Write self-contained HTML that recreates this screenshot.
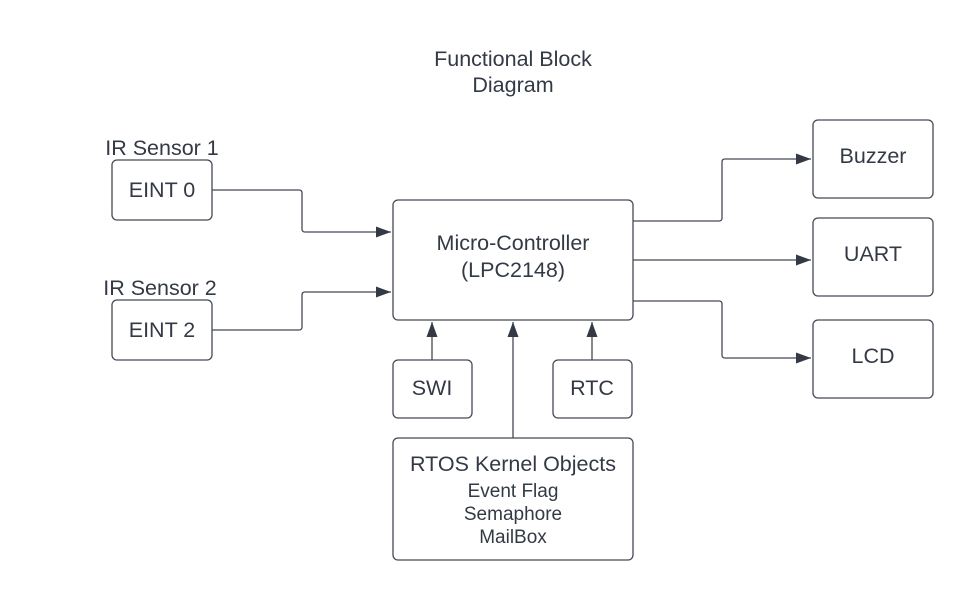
<!DOCTYPE html>
<html><head><meta charset="utf-8"><style>
body{margin:0;background:#fff;}
svg text{font-family:"Liberation Sans",sans-serif;fill:#333a45;}
</style></head><body>
<svg width="973" height="601" viewBox="0 0 973 601" xmlns="http://www.w3.org/2000/svg">
<defs><marker id="a" markerWidth="15" markerHeight="11" refX="15" refY="5.5" orient="auto" markerUnits="userSpaceOnUse"><path d="M0,0 L15,5.5 L0,11 Z" fill="#333a45"/></marker></defs>
<g fill="none" stroke="#454b55" stroke-width="1.3">
<rect x="112" y="160" width="100" height="60" rx="5"/>
<rect x="112" y="300" width="100" height="60" rx="5"/>
<rect x="393" y="200" width="240" height="120" rx="5"/>
<rect x="813" y="120" width="120" height="78" rx="5"/>
<rect x="813" y="218" width="120" height="78" rx="5"/>
<rect x="813" y="320" width="120" height="78" rx="5"/>
<rect x="393" y="360" width="79" height="58" rx="5"/>
<rect x="553" y="360" width="79" height="58" rx="5"/>
<rect x="393" y="438" width="240" height="122" rx="5"/>
<path d="M212,190 H299 Q302,190 302,193 V229 Q302,232 305,232 H391" marker-end="url(#a)"/>
<path d="M212,330 H299 Q302,330 302,327 V295 Q302,292 305,292 H391" marker-end="url(#a)"/>
<path d="M633,221 H719 Q722,221 722,218 V162 Q722,159 725,159 H811" marker-end="url(#a)"/>
<path d="M633,260 H811" marker-end="url(#a)"/>
<path d="M633,301 H719 Q722,301 722,304 V355 Q722,358 725,358 H811" marker-end="url(#a)"/>
<path d="M432,360 V322" marker-end="url(#a)"/>
<path d="M592,360 V322" marker-end="url(#a)"/>
<path d="M513,438 V322" marker-end="url(#a)"/>
</g>
<g font-size="21.5" text-anchor="middle">
<text x="513" y="66">Functional Block</text>
<text x="513" y="92">Diagram</text>
<text x="162" y="155">IR Sensor 1</text>
<text x="160" y="295">IR Sensor 2</text>
<text x="162" y="197">EINT 0</text>
<text x="162" y="337">EINT 2</text>
<text x="513" y="250">Micro-Controller</text>
<text x="513" y="277">(LPC2148)</text>
<text x="873" y="163">Buzzer</text>
<text x="873" y="261">UART</text>
<text x="873" y="363">LCD</text>
<text x="432" y="395">SWI</text>
<text x="592" y="395">RTC</text>
<text x="513" y="471">RTOS Kernel Objects</text>
</g>
<g font-size="19" text-anchor="middle">
<text x="513" y="497">Event Flag</text>
<text x="513" y="520">Semaphore</text>
<text x="513" y="543">MailBox</text>
</g>
</svg>
</body></html>
